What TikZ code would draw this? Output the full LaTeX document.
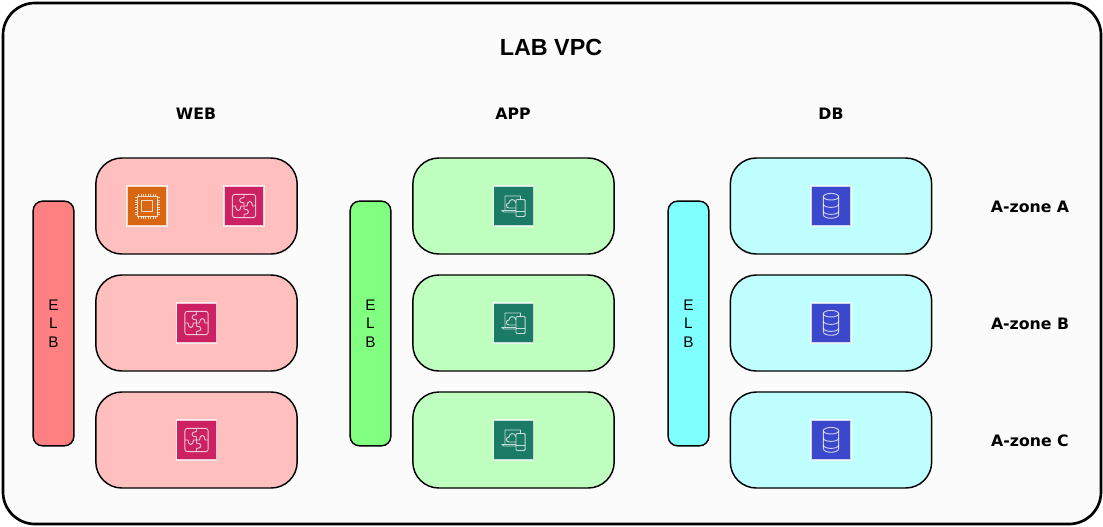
\documentclass[tikz,border=0pt]{standalone}
\usepackage{fontspec}
\setmainfont{Liberation Sans}
\newfontfamily\headfont{DejaVu Sans}
\usepackage{tikz}
\usetikzlibrary{shadows}
\definecolor{webfill}{rgb}{1,0.75,0.75}
\definecolor{appfill}{rgb}{0.75,1,0.75}
\definecolor{dbfill}{rgb}{0.75,1,1}
\definecolor{webelb}{rgb}{1,0.5,0.5}
\definecolor{appelb}{rgb}{0.5,1,0.5}
\definecolor{dbelb}{rgb}{0.5,1,1}
\definecolor{vpcfill}{rgb}{0.984,0.984,0.984}
\definecolor{chipcol}{HTML}{D86613}
\definecolor{puzzlecol}{HTML}{CC2264}
\definecolor{cloudcol}{HTML}{1B7B67}
\definecolor{basecol}{HTML}{3B48CC}
\tikzset{
	tierbox/.style={draw=black, line width=1.1pt, rounded corners=19.5pt, minimum width=151pt, minimum height=72pt, inner sep=0pt},
	elbbox/.style={draw=black, line width=1.1pt, rounded corners=7pt, minimum width=30.5pt, minimum height=183.5pt, inner sep=0pt, align=center, font=\fontsize{11.5}{13.8}\selectfont},
	headlabel/.style={inner sep=0pt, font=\headfont\fontsize{11.8}{14}\selectfont\bfseries},
	iconbox/.style={draw=white, draw opacity=0.75, line width=0.8pt, minimum size=30pt, inner sep=0pt,
		drop shadow={shadow xshift=0.3pt, shadow yshift=-0.6pt, opacity=0.3}},
	iconline/.style={draw=white, draw opacity=0.75, line width=0.7pt, line join=round},
	pics/chipicon/.style={code={
		\node[iconbox, fill=chipcol] (-box) at (0,0) {};
		\draw[iconline] (-10,-10) rectangle (10,10);
		\draw[iconline] (-5.5,-5.5) rectangle (5.5,5.5);
		\foreach \t in {-8.4,-6,-3.6,-1.2,1.2,3.6,6,8.4} {
			\draw[iconline] (\t,-10) -- (\t,-12.5);
			\draw[iconline] (\t,10) -- (\t,12.5);
			\draw[iconline] (-10,\t) -- (-12.5,\t);
			\draw[iconline] (10,\t) -- (12.5,\t);
		}
	}},
	pics/puzzleicon/.style={code={
		\node[iconbox, fill=puzzlecol] (-box) at (0,0) {};
		\draw[iconline, rounded corners=2pt] (-11.7,-11.7) rectangle (11.7,11.7);
		\draw[iconline] (0,11.7) -- (0,8.5) .. controls (-6,8.5) and (-6,3) .. (0,3) -- (0,0);
		\draw[iconline] (11.7,0) -- (8.5,0) .. controls (8.5,6) and (3,6) .. (3,0) -- (0,0);
		\draw[iconline] (0,-11.7) -- (0,-8.5) .. controls (6,-8.5) and (6,-3) .. (0,-3) -- (0,0);
		\draw[iconline] (-11.7,0) -- (-8.5,0) .. controls (-8.5,-6) and (-3,-6) .. (-3,0) -- (0,0);
	}},
	pics/cloudicon/.style={code={
		\node[iconbox, fill=cloudcol] (-box) at (0,0) {};
		\draw[iconline] (2.5,-6) -- (-9.5,-6) -- (-11.7,-4.5) -- (-8.5,-4.5) -- (-8.5,10) -- (7,10) -- (7,6.5);
		\draw[iconline] (-8.5,-4.5) -- (2.5,-4.5);
		\draw[iconline] (2.5,-2) -- (-4.5,-2) .. controls (-8,-2) and (-8,3) .. (-4.5,3)
			.. controls (-4,7.5) and (1,7.5) .. (2.5,3.5);
		\draw[iconline, rounded corners=0.8pt] (2.5,-10.5) rectangle (11.7,6.5);
		\draw[iconline] (2.5,-5) -- (11.7,-5);
	}},
	pics/dbicon/.style={code={
		\node[iconbox, fill=basecol] (-box) at (0,0) {};
		\draw[iconline] (0,9.3) ellipse (7.7 and 3.3);
		\draw[iconline] (-7.7,9.3) -- (-7.7,-8.5) .. controls (-7.7,-13.5) and (7.7,-13.5) .. (7.7,-8.5) -- (7.7,9.3);
		\draw[iconline] (-7.7,2) .. controls (-7.7,-2.5) and (7.7,-2.5) .. (7.7,2);
		\draw[iconline] (-7.7,-5) .. controls (-7.7,-9.5) and (7.7,-9.5) .. (7.7,-5);
	}},
}
\begin{document}
\begin{tikzpicture}[x=0.75pt, y=-0.75pt]
	\useasboundingbox (0,0) rectangle (1103,526);
	\draw[draw=black, fill=vpcfill, line width=2pt, rounded corners=24pt] (3,3) rectangle (1101,524);
	\node[inner sep=0pt, font=\fontsize{17.5}{20}\selectfont\bfseries] (title) at (551,47.5) {LAB VPC};

	% tier headers
	\node[headlabel] (webhead) at (196,113.5) {WEB};
	\node[headlabel] (apphead) at (513,113.5) {APP};
	\node[headlabel] (dbhead) at (831,113.5) {DB};

	% load balancers
	\node[elbbox, fill=webelb] (webelb) at (53.5,323.5) {E\\L\\B};
	\node[elbbox, fill=appelb] (appelb) at (370.5,323.5) {E\\L\\B};
	\node[elbbox, fill=dbelb] (dbelb) at (688.5,323.5) {E\\L\\B};

	% tier rows
	\foreach \name/\ypos in {a/206,b/323,c/440} {
		\node[tierbox, fill=webfill] (web\name) at (196.5,\ypos) {};
		\node[tierbox, fill=appfill] (app\name) at (513.5,\ypos) {};
		\node[tierbox, fill=dbfill] (db\name) at (831,\ypos) {};
	}

	% icons
	\pic[yscale=-1] (chip) at (147,206) {chipicon};
	\pic[yscale=-1] (puzzlea) at (244,206) {puzzleicon};
	\pic[yscale=-1] (puzzleb) at (196.5,323) {puzzleicon};
	\pic[yscale=-1] (puzzlec) at (196.5,440) {puzzleicon};
	\foreach \name/\ypos in {a/206,b/323,c/440} {
		\pic[yscale=-1] (cloud\name) at (513.5,\ypos) {cloudicon};
		\pic[yscale=-1] (base\name) at (831,\ypos) {dbicon};
	}

	% zones
	\node[headlabel] (zonea) at (1030,206.5) {A-zone A};
	\node[headlabel] (zoneb) at (1030,323.5) {A-zone B};
	\node[headlabel] (zonec) at (1030,440.5) {A-zone C};
\end{tikzpicture}
\end{document}
